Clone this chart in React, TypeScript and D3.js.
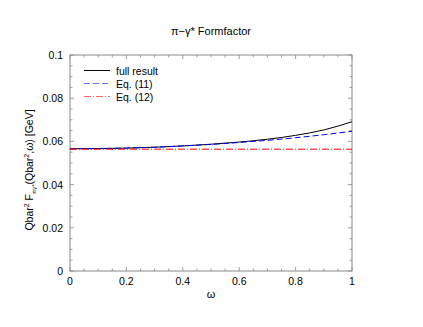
import { useEffect, useRef } from "react";
import * as d3 from "d3";

// omega grid and the three curves
const omega = [0, 0.1, 0.2, 0.3, 0.4, 0.5, 0.6, 0.7, 0.8, 0.9, 1.0];
const fullResult = [0.0566, 0.0567, 0.0569, 0.0573, 0.0579, 0.0587, 0.0597, 0.0610, 0.0628, 0.0653, 0.0691];
const eq11 = [0.0566, 0.0567, 0.0569, 0.0573, 0.0579, 0.0586, 0.0595, 0.0605, 0.0617, 0.0631, 0.0647];
const eq12 = [0.0564, 0.0564, 0.0564, 0.0564, 0.0564, 0.0564, 0.0564, 0.0564, 0.0564, 0.0564, 0.0564];

const xTicks = [0, 0.2, 0.4, 0.6, 0.8, 1];
const yTicks = [0, 0.02, 0.04, 0.06, 0.08, 0.1];

const series = [
  { label: "full result", values: fullResult, color: "#000000", dash: null },
  { label: "Eq. (11)", values: eq11, color: "#0000ff", dash: "6,3" },
  { label: "Eq. (12)", values: eq12, color: "#ff0000", dash: "7,2,1,2" },
];

const App = () => {
  const svgRef = useRef<SVGSVGElement>(null);

  useEffect(() => {
    const W = 423;
    const H = 327;
    const margin = { top: 55, right: 71, bottom: 56, left: 70 };
    const width = W - margin.left - margin.right;
    const height = H - margin.top - margin.bottom;

    const root = d3.select(svgRef.current);
    root.selectAll("*").remove();
    root.attr("width", W).attr("height", H);

    const svg = root.append("g").attr("transform", `translate(${margin.left},${margin.top})`);
    const font = "Liberation Sans, Arial, sans-serif";

    const x = d3.scaleLinear().domain([0, 1]).range([0, width]);
    const y = d3.scaleLinear().domain([0, 0.1]).range([height, 0]);

    // frame
    svg.append("rect")
      .attr("width", width).attr("height", height)
      .attr("fill", "none").attr("stroke", "#888").attr("stroke-width", 1);

    // inward ticks on all sides
    const xMinor = d3.range(0, 1.0001, 0.05);
    const yMinor = d3.range(0, 0.10001, 0.005);
    const tickG = svg.append("g").attr("stroke", "#888").attr("stroke-width", 0.8);
    xMinor.forEach((v, i) => {
      const len = i % 4 === 0 ? 4 : 2.5;
      tickG.append("line").attr("x1", x(v)).attr("x2", x(v)).attr("y1", height).attr("y2", height - len);
      tickG.append("line").attr("x1", x(v)).attr("x2", x(v)).attr("y1", 0).attr("y2", len);
    });
    yMinor.forEach((v, i) => {
      const len = i % 4 === 0 ? 4 : 2.5;
      tickG.append("line").attr("y1", y(v)).attr("y2", y(v)).attr("x1", 0).attr("x2", len);
      tickG.append("line").attr("y1", y(v)).attr("y2", y(v)).attr("x1", width).attr("x2", width - len);
    });

    // tick labels
    svg.selectAll(".xl").data(xTicks).enter().append("text")
      .attr("x", d => x(d)).attr("y", height + 14)
      .attr("text-anchor", "middle").style("font-family", font).style("font-size", "10.5px")
      .text(d => d3.format("~g")(d));
    svg.selectAll(".yl").data(yTicks).enter().append("text")
      .attr("x", -7).attr("y", d => y(d) + 4)
      .attr("text-anchor", "end").style("font-family", font).style("font-size", "10.5px")
      .text(d => d3.format("~g")(d));

    // curves
    const line = d3.line<number>()
      .x((_, i) => x(omega[i]))
      .y(d => y(d))
      .curve(d3.curveMonotoneX);
    series.forEach(s => {
      svg.append("path")
        .datum(s.values)
        .attr("d", line)
        .attr("fill", "none")
        .attr("stroke", s.color)
        .attr("stroke-width", 1)
        .attr("stroke-dasharray", s.dash);
    });

    // legend
    series.forEach((s, i) => {
      const ly = 15.5 + i * 13;
      svg.append("line")
        .attr("x1", 14).attr("x2", 40).attr("y1", ly).attr("y2", ly)
        .attr("stroke", s.color).attr("stroke-width", 1)
        .attr("stroke-dasharray", s.dash)
        .attr("opacity", i === 0 ? 1 : 0.6);
      svg.append("text")
        .attr("x", 46).attr("y", ly + 4)
        .style("font-family", font).style("font-size", "10.5px")
        .text(s.label);
    });

    // title
    root.append("text")
      .attr("x", 211).attr("y", 35)
      .attr("text-anchor", "middle").style("font-family", font).style("font-size", "11px")
      .text("π−γ* Formfactor");

    // x label
    root.append("text")
      .attr("x", margin.left + width / 2).attr("y", 298)
      .attr("text-anchor", "middle").style("font-family", font).style("font-size", "11px")
      .text("ω");

    // y label
    const yl = root.append("text")
      .attr("transform", `translate(33,170) rotate(-90)`)
      .attr("text-anchor", "middle").style("font-family", font).style("font-size", "10.5px");
    yl.append("tspan").text("Qbar");
    yl.append("tspan").attr("dy", -4).style("font-size", "7px").text("2");
    yl.append("tspan").attr("dy", 4).text(" F");
    yl.append("tspan").attr("dy", 3).style("font-size", "6px").text("πγ*");
    yl.append("tspan").attr("dy", -3).text("(Qbar");
    yl.append("tspan").attr("dy", -4).style("font-size", "7px").text("2");
    yl.append("tspan").attr("dy", 4).text(",ω) [GeV]");
  }, []);

  return <svg ref={svgRef} style={{ display: "block", position: "absolute", left: 0, top: 0 }}></svg>;
};

export default App;
